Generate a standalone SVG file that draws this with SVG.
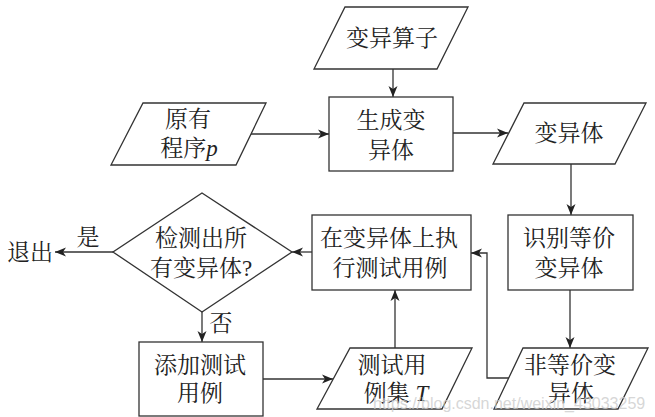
<svg xmlns="http://www.w3.org/2000/svg" width="655" height="417" viewBox="0 0 655 417">
<defs>
<marker id="ah" markerUnits="userSpaceOnUse" markerWidth="12" markerHeight="10" refX="11" refY="5" orient="auto">
<path d="M0,0.5 L11,5 L0,9.5 L3,5 Z" fill="#222"/>
</marker>
<style>
.s{fill:#fff;stroke:#333;stroke-width:1.3}
.t{font-family:"Liberation Serif","Noto Serif CJK SC","Noto Sans CJK SC",serif;font-size:23px;fill:#222;text-anchor:middle}
.c{fill:none;stroke:#333;stroke-width:1.3;marker-end:url(#ah)}
.l{fill:none;stroke:#333;stroke-width:1.3}
.i{font-style:italic}
</style>
</defs>
<rect width="655" height="417" fill="#fff"/>
<g id="connectors">
<line class="c" x1="393" y1="69" x2="393" y2="97"/>
<line class="c" x1="251" y1="134" x2="329" y2="134"/>
<line class="c" x1="453" y1="133" x2="508" y2="133"/>
<line class="c" x1="571" y1="164" x2="571" y2="215"/>
<line class="c" x1="570" y1="290" x2="570" y2="348"/>
<polyline class="c" points="509,378 487,378 487,253 471,253"/>
<line class="c" x1="395" y1="348" x2="395" y2="290"/>
<line class="c" x1="312" y1="252" x2="292" y2="252"/>
<line class="c" x1="113" y1="252" x2="55" y2="252"/>
<line class="c" x1="202" y1="312" x2="202" y2="342"/>
<line class="c" x1="263" y1="379" x2="333" y2="379"/>
</g>
<g id="operator">
<polygon class="s" points="345,7 468,7 437,69 314,69"/>
<text class="t" x="392" y="46">变异算子</text>
</g>
<g id="program">
<polygon class="s" points="143,103 266,103 236,165 111,165"/>
<text class="t" x="188" y="127">原有</text>
<text class="t" x="189" y="156">程序<tspan class="i">p</tspan></text>
</g>
<g id="generate">
<rect class="s" x="329" y="97" width="124" height="74"/>
<text class="t" x="391" y="128">生成变</text>
<text class="t" x="391" y="158">异体</text>
</g>
<g id="mutants">
<polygon class="s" points="524,103 646,103 615,164 493,164"/>
<text class="t" x="569" y="141">变异体</text>
</g>
<g id="identify">
<rect class="s" x="508" y="215" width="125" height="75"/>
<text class="t" x="569" y="246">识别等价</text>
<text class="t" x="569" y="276">变异体</text>
</g>
<g id="execute">
<rect class="s" x="312" y="215" width="159" height="75"/>
<text class="t" x="389" y="246">在变异体上执</text>
<text class="t" x="390" y="276">行测试用例</text>
</g>
<g id="decision">
<polygon class="s" points="202,193 292,252 202,312 113,252"/>
<text class="t" x="201" y="246">检测出所</text>
<text class="t" x="201" y="276">有变异体?</text>
</g>
<g id="exit">
<text class="t" x="30" y="260">退出</text>
<text class="t" x="88" y="245">是</text>
<text class="t" x="221" y="331">否</text>
</g>
<g id="add">
<rect class="s" x="139" y="342" width="124" height="74"/>
<text class="t" x="200" y="373">添加测试</text>
<text class="t" x="200" y="401">用例</text>
</g>
<g id="testset">
<polygon class="s" points="350,348 472,348 442,409 317,409"/>
<text class="t" x="392" y="373">测试用</text>
<text class="t" x="396" y="401">例集 <tspan class="i">T</tspan></text>
</g>
<g id="nonequiv">
<polygon class="s" points="523,348 648,348 618,409 494,409"/>
<text class="t" x="570" y="373">非等价变</text>
<text class="t" x="571" y="401">异体</text>
</g>
<text x="373" y="409" font-family="Liberation Sans, Arial, sans-serif" font-size="16" fill="#ccc" fill-opacity="0.8">https://blog.csdn.net/weixin_43033259</text>
</svg>
